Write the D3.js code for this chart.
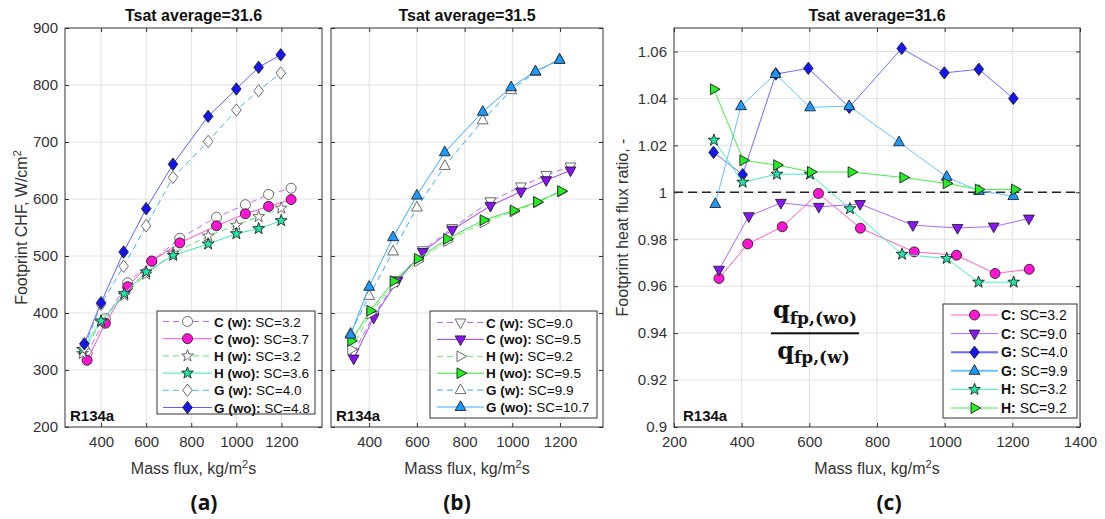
<!DOCTYPE html>
<html><head><meta charset="utf-8">
<script src="https://cdn.jsdelivr.net/npm/d3@7"></script>
<style>
body{margin:0;background:#fff}
svg{display:block}
text{font-family:"Liberation Sans",Arial,Helvetica,sans-serif}
</style>
</head><body>
<script>
// ---------------- DATA ----------------
// Panel (a): low subcooling, footprint CHF (W/cm2) vs mass flux (kg/m2s)
const massA_C  = [338, 419, 518, 625, 749, 912, 1040, 1143, 1243];
const chfA_Cw  = [329, 390, 453, 491, 531, 568, 590, 608, 619];
const chfA_Cwo = [317, 382, 446, 491, 523, 553, 574, 587, 599];
const massA_H  = [318, 400, 503, 600, 720, 875, 1000, 1099, 1199];
const chfA_Hw  = [329, 384, 431, 468, 505, 535, 554, 569, 584];
const chfA_Hwo = [336, 386, 434, 472, 501, 521, 539, 548, 562];
const massA_G  = [326, 400, 500, 600, 719, 875, 1000, 1099, 1197];
const chfA_Gw  = [340, 415, 482, 553, 638, 701, 756, 790, 821];
const chfA_Gwo = [346, 418, 507, 583, 661, 745, 793, 831, 853];
const legendA  = [["C (w):", " SC=3.2"], ["C (wo):", " SC=3.7"], ["H (w):", " SC=3.2"],
                  ["H (wo):", " SC=3.6"], ["G (w):", " SC=4.0"], ["G (wo):", " SC=4.8"]];

// Panel (b): high subcooling
const massB_C  = [335, 419, 518, 625, 748, 908, 1036, 1142, 1244];
const chfB_Cw  = [331, 396, 458, 510, 549, 596, 622, 642, 657];
const chfB_Cwo = [320, 392, 456, 507, 546, 588, 613, 633, 650];
const massB_H  = [325, 405, 503, 604, 727, 880, 1006, 1104, 1205];
const chfB_Hw  = [336, 399, 450, 491, 526, 559, 578, 594, 613];
const chfB_Hwo = [351, 404, 456, 495, 530, 563, 580, 595, 614];
const massB_G  = [322, 400, 500, 600, 717, 876, 995, 1097, 1198];
const chfB_Gw  = [364, 430, 508, 585, 658, 738, 791, 823, 845];
const chfB_Gwo = [362, 446, 533, 606, 682, 753, 796, 824, 844];
const legendB  = [["C (w):", " SC=9.0"], ["C (wo):", " SC=9.5"], ["H (w):", " SC=9.2"],
                  ["H (wo):", " SC=9.5"], ["G (w):", " SC=9.9"], ["G (wo):", " SC=10.7"]];

// Panel (c): footprint heat flux ratio q(wo)/q(w)
const massC_C32  = [333, 418, 520, 627, 751, 910, 1035, 1149, 1250];
const ratioC_C32 = [0.9633, 0.978, 0.9853, 0.9995, 0.9847, 0.9746, 0.9732, 0.9654, 0.9672];
const massC_C90  = [333, 421, 516, 628, 750, 906, 1038, 1145, 1249];
const ratioC_C90 = [0.967, 0.9898, 0.9955, 0.9938, 0.995, 0.986, 0.9848, 0.9854, 0.9888];
const massC_G40  = [317, 403, 501, 597, 718, 873, 999, 1101, 1203];
const ratioC_G40 = [1.017, 1.0075, 1.0504, 1.0528, 1.0362, 1.0613, 1.0509, 1.0524, 1.04];
const massC_G99  = [322, 398, 500, 602, 718, 865, 1006, 1101, 1203];
const ratioC_G99 = [0.995, 1.0367, 1.0504, 1.0362, 1.0367, 1.0213, 1.0066, 1.0006, 0.9984];
const massC_H32  = [318, 403, 504, 602, 720, 874, 1006, 1100, 1204];
const ratioC_H32 = [1.0222, 1.0043, 1.0077, 1.0077, 0.993, 0.9736, 0.9718, 0.9617, 0.9617];
const massC_H92  = [318, 405, 505, 605, 725, 878, 1006, 1101, 1208];
const ratioC_H92 = [1.0439, 1.0136, 1.0116, 1.0087, 1.0086, 1.0063, 1.0038, 1.0012, 1.0012];
const legendC  = [["C:", " SC=3.2"], ["C:", " SC=9.0"], ["G:", " SC=4.0"],
                  ["G:", " SC=9.9"], ["H:", " SC=3.2"], ["H:", " SC=9.2"]];

// Axis ticks
const xTicksAB = [400, 600, 800, 1000, 1200];
const yTicksAB = [200, 300, 400, 500, 600, 700, 800, 900];
const xTicksC  = [200, 400, 600, 800, 1000, 1200, 1400];
const yTicksC  = [0.9, 0.92, 0.94, 0.96, 0.98, 1.0, 1.02, 1.04, 1.06];
const yTickLabelsC = ["0.9", "0.92", "0.94", "0.96", "0.98", "1", "1.02", "1.04", "1.06"];
const titles = ["Tsat average=31.6", "Tsat average=31.5", "Tsat average=31.6"];
const panelLabels = ["(a)", "(b)", "(c)"];

// ---------------- DRAWING ----------------
const svg = d3.select("body").append("svg").attr("width", 1105).attr("height", 519);

function markerPath(shape) {
  switch (shape) {
    case "o": return d3.symbol(d3.symbolCircle, Math.PI * 5 * 5)();
    case "^": return "M0,-6.2L5.4,3.5L-5.4,3.5Z";
    case "v": return "M0,6.2L5.4,-3.5L-5.4,-3.5Z";
    case ">": return "M6.2,0L-3.5,-5.4L-3.5,5.4Z";
    case "d": return "M0,-6.2L4.8,0L0,6.2L-4.8,0Z";
    case "p": {
      const pts = d3.range(10).map(i => {
        const a = -Math.PI / 2 + i * Math.PI / 5, r = i % 2 ? 2.5 : 6.2;
        return [r * Math.cos(a), r * Math.sin(a)];
      });
      return "M" + pts.map(p => p[0].toFixed(2) + "," + p[1].toFixed(2)).join("L") + "Z";
    }
  }
}

function drawFrame(g, x, y, xTicks, yTicks) {
  const [xl, xr] = x.range(), [yb, yt] = y.range();
  g.append("g").selectAll("line").data(xTicks.filter(t => x(t) > xl + 1 && x(t) < xr - 1)).join("line")
    .attr("x1", d => x(d)).attr("x2", d => x(d)).attr("y1", yt).attr("y2", yb)
    .attr("stroke", "#e2e2e2").attr("stroke-width", 1);
  g.append("g").selectAll("line").data(yTicks.filter(t => y(t) < yb - 1 && y(t) > yt + 1)).join("line")
    .attr("y1", d => y(d)).attr("y2", d => y(d)).attr("x1", xl).attr("x2", xr)
    .attr("stroke", "#e2e2e2").attr("stroke-width", 1);
}

function drawAxes(g, x, y, xTicks, yTicks, yFmt) {
  const [xl, xr] = x.range(), [yb, yt] = y.range();
  const style = sel => {
    sel.select(".domain").remove();
    sel.selectAll(".tick line").attr("stroke", "#333");
    sel.selectAll(".tick text").attr("fill", "#333").style("font-size", "15px")
      .style("font-family", '"Liberation Sans",Arial,sans-serif');
  };
  g.append("g").attr("transform", `translate(0,${yb})`)
    .call(d3.axisBottom(x).tickValues(xTicks).tickSizeInner(-4).tickSizeOuter(0).tickPadding(9)
      .tickFormat(d3.format("d"))).call(style);
  g.append("g").attr("transform", `translate(0,${yt})`)
    .call(d3.axisTop(x).tickValues(xTicks).tickSizeInner(-4).tickSizeOuter(0).tickFormat(() => "")).call(style);
  g.append("g").attr("transform", `translate(${xl},0)`)
    .call(d3.axisLeft(y).tickValues(yTicks).tickSizeInner(-4).tickSizeOuter(0).tickPadding(7).tickFormat(yFmt)).call(style);
  g.append("g").attr("transform", `translate(${xr},0)`)
    .call(d3.axisRight(y).tickValues(yTicks).tickSizeInner(-4).tickSizeOuter(0).tickFormat(() => "")).call(style);
  g.append("rect").attr("x", xl).attr("y", yt).attr("width", xr - xl).attr("height", yb - yt)
    .attr("fill", "none").attr("stroke", "#333").attr("stroke-width", 1);
}

function drawSeries(g, x, y, xs, ys, st) {
  const pts = xs.map((v, i) => [x(v), y(ys[i])]);
  g.append("path").attr("d", d3.line()(pts)).attr("fill", "none")
    .attr("stroke", st.line).attr("stroke-width", 1)
    .attr("stroke-dasharray", st.dash ? "6,4" : null);
  g.append("g").selectAll("path").data(pts).join("path")
    .attr("d", markerPath(st.shape))
    .attr("transform", d => `translate(${d[0]},${d[1]})`)
    .attr("fill", st.fill).attr("stroke", st.edge).attr("stroke-width", 0.9);
}

function drawLegend(g, box, rows, styles, fs) {
  g.append("rect").attr("x", box.x).attr("y", box.y).attr("width", box.w).attr("height", box.h)
    .attr("fill", "#fff").attr("stroke", "#333").attr("stroke-width", 1);
  rows.forEach((r, i) => {
    const st = styles[i], cy = box.y0 + i * box.step;
    g.append("line").attr("x1", box.l1).attr("x2", box.l2).attr("y1", cy).attr("y2", cy)
      .attr("stroke", st.line).attr("stroke-width", st.lw || 1)
      .attr("stroke-dasharray", st.dash ? "6,4" : null);
    g.append("path").attr("d", markerPath(st.shape))
      .attr("transform", `translate(${(box.l1 + box.l2) / 2},${cy})`)
      .attr("fill", st.fill).attr("stroke", st.edge).attr("stroke-width", 0.9);
    const t = g.append("text").attr("x", box.tx).attr("y", cy + 5).style("font-size", fs + "px").attr("fill", "#111");
    t.append("tspan").attr("font-weight", "bold").text(r[0]);
    t.append("tspan").attr("xml:space", "preserve").style("white-space", "pre").text(r[1]);
  });
}

function titleText(cx, s) {
  svg.append("text").attr("x", cx).attr("y", 21).attr("text-anchor", "middle")
    .style("font-size", "16px").attr("font-weight", "bold").attr("fill", "#111").text(s);
}
function xLabel(cx) {
  const t = svg.append("text").attr("x", cx).attr("y", 474).attr("text-anchor", "middle")
    .style("font-size", "16px").attr("fill", "#333");
  t.append("tspan").text("Mass flux, kg/m");
  t.append("tspan").attr("dy", -6).style("font-size", "11px").text("2");
  t.append("tspan").attr("dy", 6).text("s");
}
function r134(xp) {
  svg.append("text").attr("x", xp).attr("y", 420.5).style("font-size", "15px")
    .attr("font-weight", "bold").attr("fill", "#111").text("R134a");
}
function panelLabel(cx, s) {
  svg.append("text").attr("x", cx).attr("y", 510).attr("text-anchor", "middle")
    .style("font-family", '"Open Sans","Noto Sans",sans-serif').style("font-size", "21px")
    .attr("font-weight", "bold").attr("fill", "#111").text(s);
}

// Styles
const open = "#fff", openEdge = "#5a5a5a", edge = "#222";
const stA = [
  {line: "#c46bff", dash: true,  shape: "o", fill: open, edge: openEdge},
  {line: "#ff4fd0", dash: false, shape: "o", fill: "#ff14d4", edge: edge},
  {line: "#5ce65c", dash: true,  shape: "p", fill: open, edge: openEdge},
  {line: "#3de6b5", dash: false, shape: "p", fill: "#1ee6a5", edge: edge},
  {line: "#3db5ff", dash: true,  shape: "d", fill: open, edge: openEdge},
  {line: "#5f5fff", dash: false, shape: "d", fill: "#1515f0", edge: edge}
];
const stB = [
  {line: "#b866ff", dash: true,  shape: "v", fill: open, edge: openEdge},
  {line: "#9a3dff", dash: false, shape: "v", fill: "#8a10f5", edge: edge},
  {line: "#66ee66", dash: true,  shape: ">", fill: open, edge: openEdge},
  {line: "#33e633", dash: false, shape: ">", fill: "#22ee22", edge: edge},
  {line: "#33aaff", dash: true,  shape: "^", fill: open, edge: openEdge},
  {line: "#33aaff", dash: false, shape: "^", fill: "#1a9aff", edge: edge}
];
const stC = [
  {line: "#ff5ccc", shape: "o", fill: "#ff14d4", edge: edge},
  {line: "#b066ff", shape: "v", fill: "#8a14f5", edge: edge},
  {line: "#6b6bff", shape: "d", fill: "#1515f0", edge: edge, lw: 2},
  {line: "#66c2ff", shape: "^", fill: "#1a9aff", edge: edge, lw: 2},
  {line: "#44f0c0", shape: "p", fill: "#1ee6a5", edge: edge},
  {line: "#44ee44", shape: ">", fill: "#22ee22", edge: edge}
];

// Scales
const xA = d3.scaleLinear().domain([240, 1380]).range([65, 322]);
const xB = d3.scaleLinear().domain([240, 1380]).range([331, 603]);
const yAB = d3.scaleLinear().domain([200, 900]).range([427, 28]);
const xC = d3.scaleLinear().domain([200, 1400]).range([674, 1080]);
const yC = d3.scaleLinear().domain([0.9, 1.07]).range([427, 28]);

// ---- Panel (a)
const gA = svg.append("g");
drawFrame(gA, xA, yAB, xTicksAB, yTicksAB);
const seriesA = [[massA_C, chfA_Cw], [massA_C, chfA_Cwo], [massA_H, chfA_Hw],
                 [massA_H, chfA_Hwo], [massA_G, chfA_Gw], [massA_G, chfA_Gwo]];
seriesA.forEach((s, i) => drawSeries(gA, xA, yAB, s[0], s[1], stA[i]));
drawAxes(gA, xA, yAB, xTicksAB, yTicksAB, d3.format("d"));
drawLegend(gA, {x: 157, y: 311, w: 158, h: 103, y0: 321.5, step: 17.2, l1: 163, l2: 212, tx: 214},
           legendA, stA, 13.5);

// ---- Panel (b)
const gB = svg.append("g");
drawFrame(gB, xB, yAB, xTicksAB, yTicksAB);
const seriesB = [[massB_C, chfB_Cw], [massB_C, chfB_Cwo], [massB_H, chfB_Hw],
                 [massB_H, chfB_Hwo], [massB_G, chfB_Gw], [massB_G, chfB_Gwo]];
seriesB.forEach((s, i) => drawSeries(gB, xB, yAB, s[0], s[1], stB[i]));
drawAxes(gB, xB, yAB, xTicksAB, yTicksAB, () => "");
drawLegend(gB, {x: 430, y: 311, w: 167, h: 107, y0: 322.5, step: 16.9, l1: 437, l2: 484, tx: 486},
           legendB, stB, 13.5);

// ---- Panel (c)
const gC = svg.append("g");
drawFrame(gC, xC, yC, xTicksC, yTicksC);
gC.append("line").attr("x1", xC(200)).attr("x2", xC(1400)).attr("y1", yC(1)).attr("y2", yC(1))
  .attr("stroke", "#262626").attr("stroke-width", 1.6).attr("stroke-dasharray", "9,5");
const seriesC = [[massC_C32, ratioC_C32], [massC_C90, ratioC_C90], [massC_G40, ratioC_G40],
                 [massC_G99, ratioC_G99], [massC_H32, ratioC_H32], [massC_H92, ratioC_H92]];
seriesC.forEach((s, i) => drawSeries(gC, xC, yC, s[0], s[1], stC[i]));
drawAxes(gC, xC, yC, xTicksC, yTicksC, (d, i) => yTickLabelsC[i]);
drawLegend(gC, {x: 943, y: 304, w: 134, h: 114, y0: 315, step: 18.6, l1: 951, l2: 998, tx: 1001},
           legendC, stC, 14);

// formula
const fnum = svg.append("text").attr("x", 815).attr("y", 318).attr("text-anchor", "middle")
  .style("font-family", '"DejaVu Serif","Liberation Serif",serif').attr("font-weight", "bold").attr("fill", "#111");
fnum.append("tspan").style("font-size", "24px").text("q");
fnum.append("tspan").attr("dy", 6).style("font-size", "17px").text("fp,(wo)");
svg.append("rect").attr("x", 771).attr("y", 332.3).attr("width", 88).attr("height", 2).attr("fill", "#111");
const fden = svg.append("text").attr("x", 813.5).attr("y", 359).attr("text-anchor", "middle")
  .style("font-family", '"DejaVu Serif","Liberation Serif",serif').attr("font-weight", "bold").attr("fill", "#111");
fden.append("tspan").style("font-size", "24px").text("q");
fden.append("tspan").attr("dy", 4).style("font-size", "17px").text("fp,(w)");

// titles, labels
titleText(193.5, titles[0]);
titleText(467, titles[1]);
titleText(877, titles[2]);
xLabel(193.5); xLabel(467); xLabel(877);
r134(70); r134(336); r134(683);
panelLabel(204, panelLabels[0]); panelLabel(457, panelLabels[1]); panelLabel(889, panelLabels[2]);

const yl1 = svg.append("text").attr("transform", "translate(26.5,227.5) rotate(-90)")
  .attr("text-anchor", "middle").style("font-size", "16px").attr("fill", "#333");
yl1.append("tspan").text("Footprint CHF, W/cm");
yl1.append("tspan").attr("dy", -6).style("font-size", "11px").text("2");
svg.append("text").attr("transform", "translate(628,227.5) rotate(-90)")
  .attr("text-anchor", "middle").style("font-size", "16px").attr("fill", "#333")
  .text("Footprint heat flux ratio, -");
</script>
</body></html>
